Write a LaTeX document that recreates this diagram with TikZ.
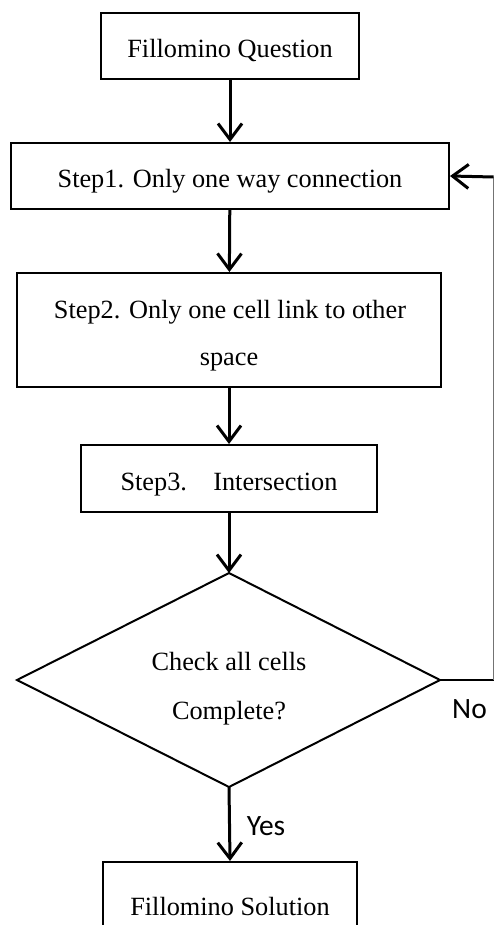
\documentclass[tikz,border=0pt]{standalone}
\usepackage{fontspec}
\setmainfont{Liberation Serif}
\newfontfamily\lblfont{Carlito}
\usetikzlibrary{arrows.meta}
\begin{document}
\begin{tikzpicture}[x=1pt,y=-1pt,
  box/.style={draw,line width=2pt,inner sep=0pt},
  txt/.style={anchor=base,inner sep=0pt,font=\fontsize{26.3}{30}\selectfont},
  flow/.style={line width=3pt,-{Straight Barb[length=16pt,width=24pt,line width=3pt]}},
  lbl/.style={anchor=base,font=\lblfont\fontsize{29.5}{34}\selectfont,inner sep=0pt}]
\useasboundingbox (0,0) rectangle (495,925);
\clip (0,0) rectangle (495,925);
% boxes
\node[box,minimum width=258pt,minimum height=66pt] (q) at (230,46) {};
\node[box,minimum width=438pt,minimum height=66pt] (s1) at (230,176) {};
\node[box,minimum width=424pt,minimum height=114pt] (s2) at (229,330) {};
\node[box,minimum width=296pt,minimum height=67pt] (s3) at (229,478.5) {};
\node[box,minimum width=254pt,minimum height=66pt] (sol) at (230,895) {};
% diamond
\coordinate (dt) at (229,573);
\coordinate (db) at (229,787);
\coordinate (dl) at (17,680);
\coordinate (dr) at (440,680);
\draw[line width=2pt,line join=miter] (dt) -- (dr) -- (db) -- (dl) -- cycle;
% texts
\node[txt] (qt) at (230,57.7) {Fillomino Question};
\node[txt] (s1t) at (230,187.7) {Step1. Only one way connection};
\node[txt] (s2ta) at (230,318.3) {Step2. Only one cell link to other};
\node[txt] (s2tb) at (229,365.5) {space};
\node[txt] (s3t) at (229,490) {Step3.\quad Intersection};
\node[txt] (dta) at (229,670) {Check all cells};
\node[txt] (dtb) at (229,719.5) {Complete?};
\node[txt] (solt) at (230,915) {Fillomino Solution};
% connectors
\coordinate (c1) at (493.5,680);
\coordinate (c2) at (493.5,177);
\draw[flow] (q) -- (s1);
\draw[flow] (s1) -- (s2);
\draw[flow] (s2) -- (s3);
\draw[flow] (s3) -- (dt);
\draw[flow] (db) -- (sol.north);
\draw[line width=2pt] (dr) -- (c1);
\draw[line width=1pt,black!55] (c1) -- (c2);
\draw[flow] (c2) -- (s1.east);
\node[lbl] (no) at (469.5,718) {No};
\node[lbl] (yes) at (266,835) {Yes};
\end{tikzpicture}
\end{document}
